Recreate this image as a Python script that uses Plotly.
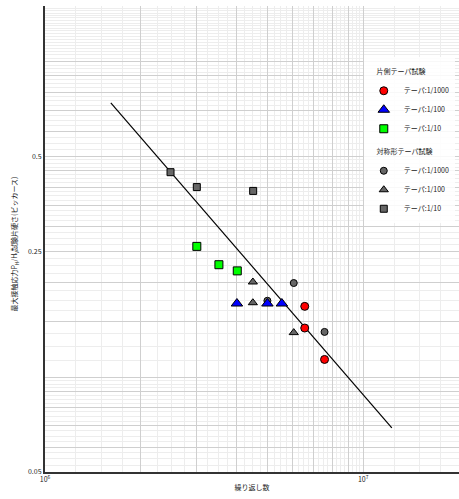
import numpy as np
import plotly.graph_objects as go

# Data
line_x = [1.61e6, 1.23e7]
line_y = [0.74, 0.069]

one_red_x = [6.55e6, 6.55e6, 7.56e6]
one_red_y = [0.1675, 0.143, 0.1137]
one_blue_x = [4.01e6, 5.0e6, 5.55e6]
one_blue_y = [0.171, 0.171, 0.171]
one_green_x = [3.0e6, 3.52e6, 4.02e6]
one_green_y = [0.2595, 0.227, 0.217]

sym_circle_x = [6.05e6, 5.0e6, 7.56e6]
sym_circle_y = [0.1986, 0.1745, 0.139]
sym_tri_x = [4.5e6, 4.5e6, 6.05e6]
sym_tri_y = [0.2001, 0.172, 0.1383]
sym_sq_x = [2.48e6, 3.0e6, 4.51e6]
sym_sq_y = [0.446, 0.40, 0.389]

group1 = "片側テーパ試験"
group2 = "対称形テーパ試験"
labels = ["テーパ:1/1000", "テーパ:1/100", "テーパ:1/10"]

x_title = "繰り返し数"
y_title = "最大接触応力P<sub>H</sub>/H<sub>V</sub>試験片硬さ(ビッカース)"

FONT = "Noto Sans CJK JP"
PAD = "\u00a0" * 5

fig = go.Figure()
fig.add_trace(go.Scatter(x=line_x, y=line_y, mode="lines",
                         line=dict(color="black", width=1.2), showlegend=False))

def add(x, y, sym, color, name, grp, size, rank):
    fig.add_trace(go.Scatter(
        x=x, y=y, mode="markers", name=name, legendgroup=grp, legendrank=rank,
        legendgrouptitle=dict(text=PAD + grp, font=dict(size=7, color="#222", family=FONT)),
        marker=dict(symbol=sym, color=color, size=size,
                    line=dict(color="black", width=1))))

add(sym_circle_x, sym_circle_y, "circle", "#666666", labels[0], group2, 7, 4)
add(sym_tri_x, sym_tri_y, "triangle-up", "#666666", labels[1], group2, 8, 5)
add(sym_sq_x, sym_sq_y, "square", "#666666", labels[2], group2, 7, 6)
add(one_red_x, one_red_y, "circle", "#ff0000", labels[0], group1, 8, 1)
add(one_blue_x, one_blue_y, "triangle-up", "#0000ff", labels[1], group1, 10, 2)
add(one_green_x, one_green_y, "square", "#00ff00", labels[2], group1, 8, 3)

# grid positions
x_major = [k * 1e6 for k in range(1, 10)] + [1e7, 2e7]
x_text = ["10<sup>6</sup>"] + [""] * 8 + ["10<sup>7</sup>", ""]
x_minor = list(np.arange(1.0, 10.0, 0.25) * 1e6) + list(np.arange(10, 20, 2.5) * 1e6)

y_major = [0.05, 0.06, 0.07, 0.08, 0.09, 0.1, 0.15, 0.2, 0.25, 0.3, 0.35, 0.4,
           0.45, 0.5, 0.6, 0.7, 0.8, 0.9, 1.0, 1.5]
y_text = ["0.05" if v == 0.05 else "0.25" if v == 0.25 else "0.5" if v == 0.5 else ""
          for v in y_major]
y_minor = list(np.arange(0.05, 0.1, 0.0025)) + list(np.arange(0.1, 0.5, 0.0125)) + \
    list(np.arange(0.5, 1.5, 0.025))

fig.update_xaxes(type="log", range=[6, np.log10(2e7)], automargin=False,
                 tickvals=x_major, ticktext=x_text, ticks="",
                 showgrid=True, gridcolor="#cfcfcf", gridwidth=1,
                 minor=dict(tickvals=x_minor, showgrid=True, gridcolor="#ededed", ticks=""),
                 showline=True, linecolor="#333", linewidth=2, zeroline=False,
                 tickfont=dict(size=7, family=FONT, color="#222"),
                 title=dict(text=x_title, font=dict(size=7, family=FONT, color="#222"),
                            standoff=2))
fig.update_yaxes(type="log", range=[np.log10(0.05), np.log10(1.5)], automargin=False,
                 tickvals=y_major, ticktext=y_text, ticks="",
                 showgrid=True, gridcolor="#cfcfcf", gridwidth=1,
                 minor=dict(tickvals=y_minor, showgrid=True, gridcolor="#ededed", ticks=""),
                 showline=True, linecolor="#333", linewidth=2, zeroline=False,
                 tickfont=dict(size=7, family=FONT, color="#222"))

fig.add_annotation(text=y_title, xref="paper", yref="paper", x=-0.075, y=0.49,
                   xanchor="center", yanchor="middle", textangle=-90, showarrow=False,
                   font=dict(size=7, family=FONT, color="#222"))

fig.update_layout(
    width=459, height=499,
    margin=dict(l=45, r=0, t=6, b=27, autoexpand=False),
    plot_bgcolor="white", paper_bgcolor="white",
    font=dict(family=FONT, size=7, color="#222"),
    legend=dict(x=0.77, y=0.89, xanchor="left", yanchor="top",
                bgcolor="rgba(255,255,255,0.85)", font=dict(size=7, family=FONT),
                tracegroupgap=4, itemwidth=30, traceorder="grouped"),
)

fig.write_html("out.html")
